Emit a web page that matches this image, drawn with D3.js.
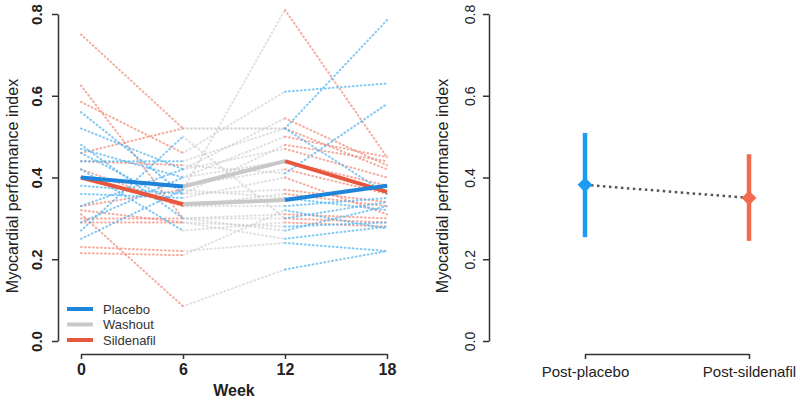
<!DOCTYPE html>
<html>
<head>
<meta charset="utf-8">
<script src="https://cdn.jsdelivr.net/npm/d3@7"></script>
<style>
  html, body { margin: 0; padding: 0; background: #fff; }
  svg { display: block; font-family: "Liberation Sans", Arial, Helvetica, sans-serif; }
</style>
</head>
<body>
<svg id="chart" width="800" height="401"></svg>
<script>
// ---------- DATA ----------
const weeks = [0, 6, 12, 18];
const weekTicks = [0, 6, 12, 18];
const yTicks = [0.0, 0.2, 0.4, 0.6, 0.8];

// individuals randomised to placebo first (placebo 0-6, washout 6-12, sildenafil 12-18)
const placeboFirst = [
  [0.56, 0.36, 0.48, 0.44],
  [0.52, 0.42, 0.545, 0.43],
  [0.48, 0.30, 0.31, 0.30],
  [0.47, 0.40, 0.50, 0.45],
  [0.46, 0.33, 0.36, 0.33],
  [0.44, 0.44, 0.52, 0.42],
  [0.42, 0.27, 0.29, 0.28],
  [0.40, 0.38, 0.42, 0.36],
  [0.38, 0.36, 0.37, 0.34],
  [0.36, 0.35, 0.40, 0.31],
  [0.33, 0.42, 0.47, 0.40],
  [0.29, 0.40, 0.44, 0.38],
  [0.27, 0.50, 0.30, 0.29],
  [0.25, 0.37, 0.81, 0.45]
];
// individuals randomised to sildenafil first (sildenafil 0-6, washout 6-12, placebo 12-18)
const sildenafilFirst = [
  [0.75, 0.52, 0.52, 0.785],
  [0.625, 0.30, 0.30, 0.34],
  [0.585, 0.46, 0.61, 0.63],
  [0.46, 0.52, 0.52, 0.36],
  [0.44, 0.43, 0.41, 0.58],
  [0.42, 0.33, 0.345, 0.38],
  [0.40, 0.33, 0.33, 0.35],
  [0.33, 0.37, 0.35, 0.32],
  [0.32, 0.29, 0.28, 0.29],
  [0.31, 0.085, 0.175, 0.22],
  [0.30, 0.30, 0.27, 0.33],
  [0.29, 0.29, 0.25, 0.28],
  [0.23, 0.22, 0.24, 0.22],
  [0.215, 0.21, 0.32, 0.275]
];
const meanPlaceboFirst = [0.40, 0.378, 0.44, 0.365];
const meanSildenafilFirst = [0.40, 0.335, 0.345, 0.38];

const legendLabels = ["Placebo", "Washout", "Sildenafil"];

const conditions = ["Post-placebo", "Post-sildenafil"];
const estimates = [0.382, 0.350];
const lowerCI = [0.254, 0.245];
const upperCI = [0.509, 0.457];

// ---------- STYLE ----------
const colIndiv = { Placebo: "#5ab7f0", Washout: "#cdcdcd", Sildenafil: "#f2907f" };
const opIndiv = { Placebo: 0.75, Washout: 0.6, Sildenafil: 0.75 };
const colMean = { Placebo: "#1f85da", Washout: "#c8c8c8", Sildenafil: "#e6583d" };
const colRight = ["#1b9cf0", "#f36a4f"];
const axisCol = "#333";
const textCol = "#222";

const svg = d3.select("#chart");

// ---------- LEFT PANEL ----------
const xL = d3.scaleLinear().domain([0, 18]).range([81, 387]);
const yS = d3.scaleLinear().domain([0, 0.8]).range([341, 14]);

const seqA = ["Placebo", "Washout", "Sildenafil"];
const seqB = ["Sildenafil", "Washout", "Placebo"];

function segments(vals, seq) {
  const out = [];
  for (let i = 0; i < 3; i++) {
    out.push({ x1: weeks[i], y1: vals[i], x2: weeks[i + 1], y2: vals[i + 1], phase: seq[i] });
  }
  return out;
}

let indivSegs = [];
placeboFirst.forEach(v => indivSegs = indivSegs.concat(segments(v, seqA)));
sildenafilFirst.forEach(v => indivSegs = indivSegs.concat(segments(v, seqB)));
const phaseOrder = { Washout: 0, Sildenafil: 1, Placebo: 2 };
indivSegs.sort((a, b) => phaseOrder[a.phase] - phaseOrder[b.phase]);

const gL = svg.append("g");
gL.selectAll("line.indiv").data(indivSegs).enter().append("line")
  .attr("class", "indiv")
  .attr("x1", d => xL(d.x1)).attr("y1", d => yS(d.y1))
  .attr("x2", d => xL(d.x2)).attr("y2", d => yS(d.y2))
  .attr("stroke", d => colIndiv[d.phase])
  .attr("stroke-width", 2)
  .attr("stroke-dasharray", "0.8,3.2")
  .attr("stroke-linecap", "round")
  .attr("opacity", d => opIndiv[d.phase]);

let meanSegs = segments(meanPlaceboFirst, seqA).concat(segments(meanSildenafilFirst, seqB));
meanSegs.sort((a, b) => phaseOrder[a.phase] - phaseOrder[b.phase]);
gL.selectAll("line.mean").data(meanSegs).enter().append("line")
  .attr("class", "mean")
  .attr("x1", d => xL(d.x1)).attr("y1", d => yS(d.y1))
  .attr("x2", d => xL(d.x2)).attr("y2", d => yS(d.y2))
  .attr("stroke", d => colMean[d.phase])
  .attr("stroke-width", 4);

// axes
function styleAxis(g) {
  g.selectAll("path.domain").attr("stroke", axisCol).attr("stroke-width", 1.5);
  g.selectAll(".tick line").attr("stroke", axisCol).attr("stroke-width", 1.5);
  g.selectAll("text").attr("fill", textCol);
}

const yAxisL = svg.append("g").attr("transform", "translate(58,0)")
  .call(d3.axisLeft(yS).tickValues(yTicks).tickFormat(d3.format(".1f")).tickSize(6).tickSizeOuter(0));
styleAxis(yAxisL);
yAxisL.selectAll("text")
  .attr("x", 0).attr("dy", "0.35em")
  .attr("transform", "translate(-21,0) rotate(-90)")
  .attr("text-anchor", "middle")
  .style("font-size", "15px").style("font-weight", "bold");

const xAxisL = svg.append("g").attr("transform", "translate(0,354)")
  .call(d3.axisBottom(xL).tickValues(weekTicks).tickSize(5).tickSizeOuter(0));
styleAxis(xAxisL);
xAxisL.selectAll("text").attr("y", 10).attr("dy", "0.71em")
  .style("font-size", "16px").style("font-weight", "bold");

svg.append("text").attr("x", 234).attr("y", 396)
  .attr("text-anchor", "middle").attr("fill", textCol)
  .style("font-size", "16px").style("font-weight", "bold").text("Week");

svg.append("text")
  .attr("transform", "translate(18,186) rotate(-90)")
  .attr("text-anchor", "middle").attr("fill", textCol)
  .style("font-size", "16px").text("Myocardial performance index");

// legend
const leg = svg.append("g").selectAll("g").data(legendLabels).enter().append("g")
  .attr("transform", (d, i) => `translate(67,${309 + i * 15.5})`);
leg.append("line").attr("x1", 0).attr("x2", 26).attr("y1", 0).attr("y2", 0)
  .attr("stroke", d => colMean[d]).attr("stroke-width", 4);
leg.append("text").attr("x", 36).attr("y", 0).attr("dy", "0.35em")
  .attr("fill", "#333").style("font-size", "13px").text(d => d);

// ---------- RIGHT PANEL ----------
const xR = d3.scalePoint().domain(conditions).range([585, 749]);

const yAxisR = svg.append("g").attr("transform", "translate(489,0)")
  .call(d3.axisLeft(yS).tickValues(yTicks).tickFormat(d3.format(".1f")).tickSize(6).tickSizeOuter(0));
styleAxis(yAxisR);
yAxisR.selectAll("text")
  .attr("x", 0).attr("dy", "0.35em")
  .attr("transform", "translate(-19,0) rotate(-90)")
  .attr("text-anchor", "middle")
  .style("font-size", "14px");

const xAxisR = svg.append("g").attr("transform", "translate(0,354)")
  .call(d3.axisBottom(xR).tickSize(5).tickSizeOuter(0));
styleAxis(xAxisR);
xAxisR.selectAll("text").attr("y", 12).attr("dy", "0.71em").style("font-size", "15px");

svg.append("text")
  .attr("transform", "translate(448,186) rotate(-90)")
  .attr("text-anchor", "middle").attr("fill", textCol)
  .style("font-size", "16px").text("Myocardial performance index");

const ptData = conditions.map((c, i) => ({ c, est: estimates[i], lo: lowerCI[i], hi: upperCI[i], col: colRight[i] }));

svg.append("line")
  .attr("x1", xR(conditions[0])).attr("y1", yS(estimates[0]))
  .attr("x2", xR(conditions[1])).attr("y2", yS(estimates[1]))
  .attr("stroke", "#555").attr("stroke-width", 2.5)
  .attr("stroke-dasharray", "2.5,3.5");

svg.selectAll("line.ci").data(ptData).enter().append("line")
  .attr("class", "ci")
  .attr("x1", d => xR(d.c)).attr("x2", d => xR(d.c))
  .attr("y1", d => yS(d.lo)).attr("y2", d => yS(d.hi))
  .attr("stroke", d => d.col).attr("stroke-width", 4.5);

svg.selectAll("path.pt").data(ptData).enter().append("path")
  .attr("class", "pt")
  .attr("d", d3.symbol(d3.symbolSquare, 110))
  .attr("transform", d => `translate(${xR(d.c)},${yS(d.est)}) rotate(45)`)
  .attr("fill", d => d.col);
</script>
</body>
</html>
